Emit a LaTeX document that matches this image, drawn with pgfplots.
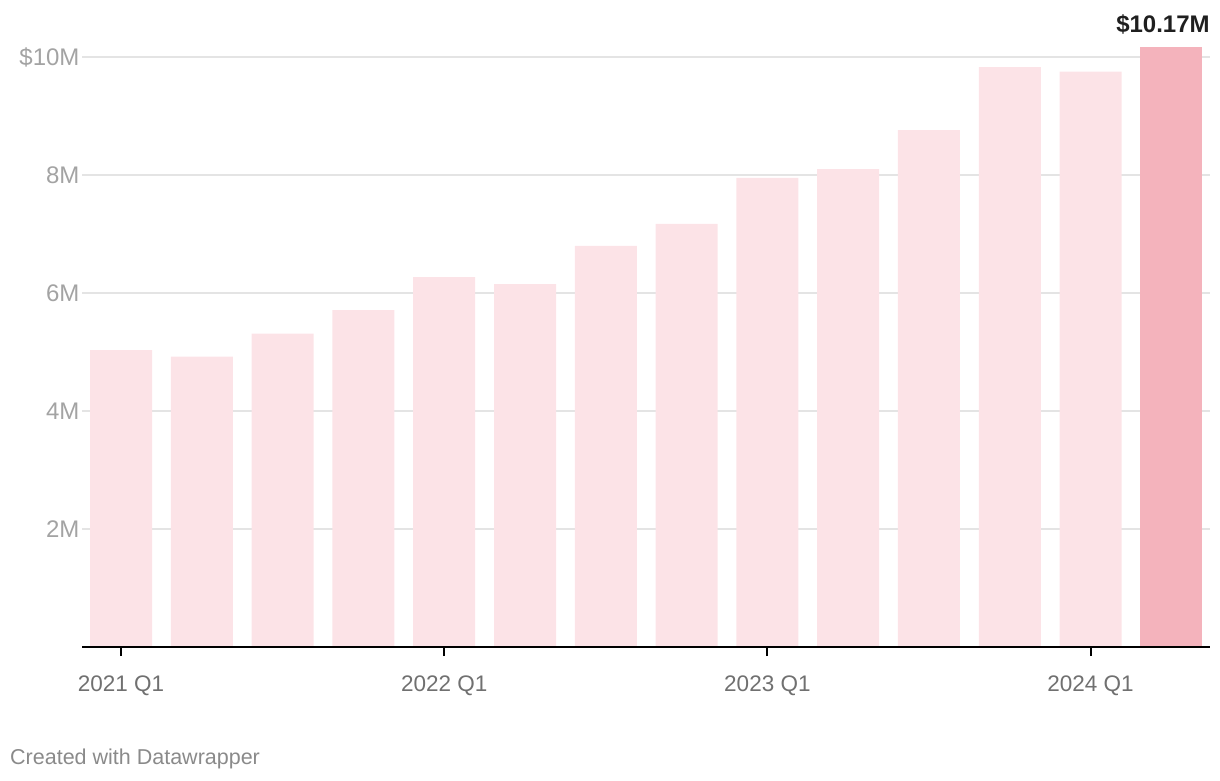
\documentclass[border=0pt]{standalone}
\usepackage{pgfplots}
\pgfplotsset{compat=1.18}
\usepackage{fontspec}
\setmainfont{Liberation Sans}
\definecolor{barlight}{HTML}{FCE3E7}
\definecolor{bardark}{HTML}{F4B3BC}
\definecolor{gridc}{HTML}{E4E4E4}
\definecolor{ylab}{HTML}{A3A3A3}
\definecolor{xlab}{HTML}{707070}
\definecolor{foot}{HTML}{8A8A8A}
\pgfplotsset{base/.style={
  at={(82pt,133pt)}, anchor=south west,
  scale only axis, width=1128pt, height=601.8pt,
  xmin=-0.483, xmax=13.478, ymin=0, ymax=10.2, clip=false}}
\begin{document}
\begin{tikzpicture}[x=1pt,y=1pt]
\useasboundingbox (0,0) rectangle (1220,780);
\begin{axis}[base,
  axis x line=none, axis y line*=left,
  y axis line style={draw=none},
  ytick={2,4,6,8,10}, yticklabels={2M,4M,6M,8M,\$10M},
  ytick style={draw=none},
  ymajorgrids, grid style={gridc, line width=1.5pt},
  y tick label style={font=\fontsize{24}{28}\selectfont, text=ylab, xshift=1pt},
  ybar, bar width=62pt, bar shift=0pt,
]
\addplot[draw=none, fill=barlight] coordinates {
(0,5.03) (1,4.92) (2,5.31) (3,5.71) (4,6.27) (5,6.15) (6,6.80)
(7,7.17) (8,7.95) (9,8.10) (10,8.76) (11,9.83) (12,9.75)};
\addplot[draw=none, fill=bardark,
  nodes near coords={\textbf{\$10.17M}},
  every node near coord/.style={anchor=base east, inner sep=0pt, xshift=38.5pt, yshift=14pt,
    font=\fontsize{24}{28}\selectfont, text=black!88}]
  coordinates {(13,10.17)};
\end{axis}
\begin{axis}[base,
  axis y line=none, axis x line*=bottom,
  x axis line style={black, line width=2pt, -},
  ytick=\empty,
  xtick={0,4,8,12}, xticklabels={2021 Q1,2022 Q1,2023 Q1,2024 Q1},
  xtick style={black, line width=2pt},
  major tick length=9pt, tick align=outside,
  x tick label style={font=\fontsize{22.5}{26}\selectfont, text=xlab, yshift=-16pt},
]
\addplot[draw=none, mark=none] coordinates {(0,0)};
\end{axis}
\node[anchor=west, inner sep=0pt, text=foot, font=\fontsize{21.5}{25}\selectfont] at (10,21) {Created with Datawrapper};
\end{tikzpicture}
\end{document}
